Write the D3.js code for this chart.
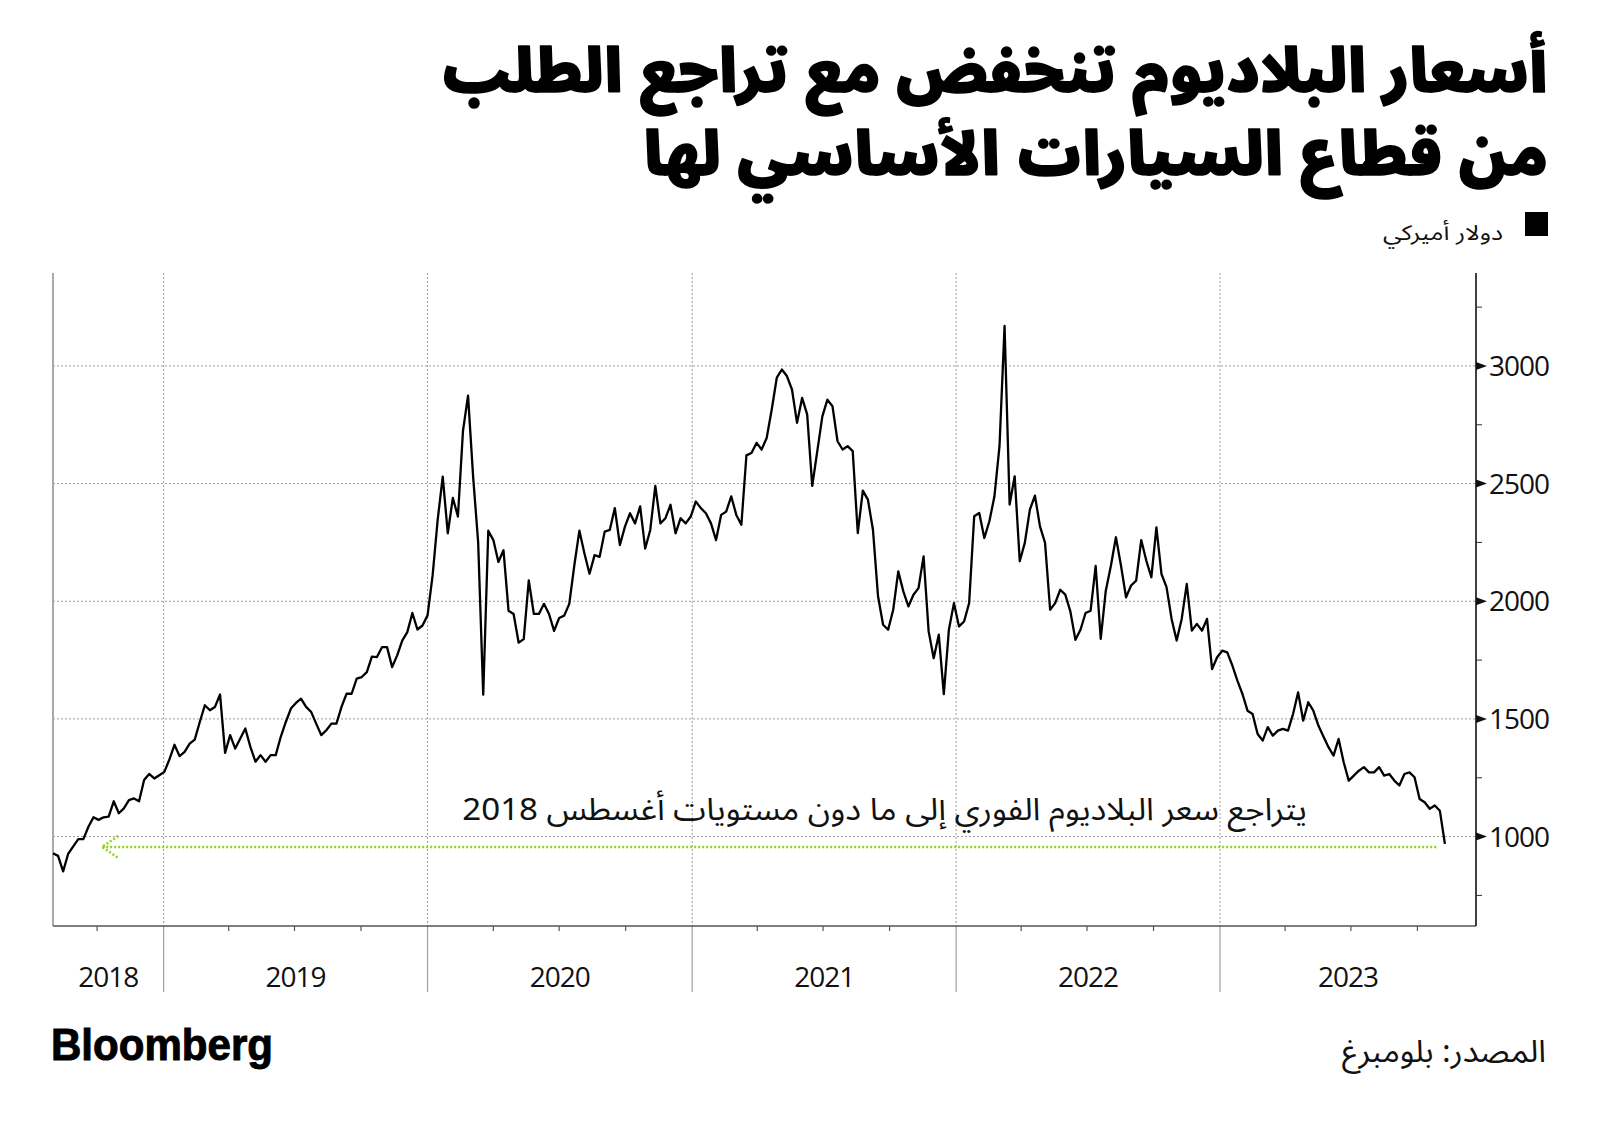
<!DOCTYPE html>
<html><head><meta charset="utf-8">
<script src="https://cdn.jsdelivr.net/npm/d3@7"></script>
<style>
html,body{margin:0;padding:0;background:#fff;}
svg{display:block;}
</style></head><body>
<svg id="chart" width="1600" height="1125"></svg>
<script>
// ---- DATA ----
const startDate = "2018-08-01";   // first weekly observation
const stepDays = 7;               // weekly observations
const prices = [
929,918,852,927,958,989,989,1042,1082,1071,1082,1085,1150,1099,1120,1155,1162,1150,1240,1266,
1247,1261,1275,1328,1390,1342,1360,1395,1412,1487,1558,1537,1551,1604,1356,1431,1374,1417,1459,1381,
1318,1346,1318,1346,1346,1424,1487,1544,1568,1586,1551,1530,1480,1431,1452,1480,1480,1551,1607,1607,
1671,1678,1699,1765,1763,1805,1805,1720,1770,1833,1869,1950,1880,1897,1940,2110,2346,2530,2289,2439,
2360,2724,2874,2531,2250,1603,2300,2260,2167,2217,1960,1946,1824,1839,2089,1946,1946,1989,1946,1874,
1929,1939,1989,2153,2300,2203,2117,2196,2189,2296,2303,2396,2239,2317,2374,2331,2403,2224,2303,2490,
2331,2353,2410,2289,2353,2331,2360,2424,2396,2374,2331,2260,2367,2381,2446,2367,2325,2620,2630,2673,
2645,2694,2815,2950,2985,2957,2900,2758,2864,2794,2490,2638,2786,2857,2829,2680,2645,2659,2638,2290,
2470,2432,2304,2021,1900,1879,1964,2127,2042,1978,2028,2056,2191,1872,1758,1858,1605,1879,1992,1893,
1914,1992,2361,2375,2269,2340,2446,2659,3170,2411,2531,2170,2248,2389,2449,2318,2248,1964,1992,2049,
2028,1957,1836,1879,1950,1960,2150,1840,2045,2150,2272,2152,2017,2067,2088,2260,2173,2102,2314,2116,
2060,1925,1833,1925,2074,1875,1904,1875,1925,1712,1762,1790,1783,1727,1663,1606,1535,1521,1436,1408,
1465,1429,1450,1458,1450,1521,1613,1493,1571,1535,1472,1425,1380,1344,1415,1316,1238,1259,1280,1295,
1273,1273,1295,1259,1266,1238,1217,1266,1273,1252,1160,1146,1118,1132,1110,969
];
const xDomain = ["2018-08-01", "2023-12-21"];
const yDomain = [620, 3395];
const yTicksMajor = [1000, 1500, 2000, 2500, 3000];
const yTicksMinor = [750, 1250, 1750, 2250, 2750, 3250];
const yearLabels = ["2018", "2019", "2020", "2021", "2022", "2023"];
const arrowLevel = 956;
const arrowDates = ["2018-10-08", "2023-10-29"];

const titleLines = ["أسعار البلاديوم تنخفض مع تراجع الطلب", "من قطاع السيارات الأساسي لها"];
const legendLabel = "دولار أميركي";
const annotationText = "يتراجع سعر البلاديوم الفوري إلى ما دون مستويات أغسطس 2018";
const sourceText = "المصدر: بلومبرغ";
const logoText = "Bloomberg";

// ---- LAYOUT ----
const plot = {left: 53, right: 1476, top: 273, bottom: 926};
const parse = d3.utcParse("%Y-%m-%d");
const start = parse(startDate);
const series = prices.map((v, i) => ({date: d3.utcDay.offset(start, i * stepDays), value: v}));

const x = d3.scaleUtc().domain(xDomain.map(parse)).range([plot.left, plot.right]);
const y = d3.scaleLinear().domain(yDomain).range([plot.bottom, plot.top]);

const svg = d3.select("#chart");
const arabicFont = "'Noto Sans Arabic','Noto Kufi Arabic','DejaVu Sans',sans-serif";
const latinFont = "'Open Sans','Noto Sans',sans-serif";

function fitX(sel, L, R) {
  const b = sel.node().getBBox();
  const s = (R - L) / b.width;
  sel.attr("transform", `translate(${L - b.x * s},0) scale(${s},1)`);
}

// horizontal gridlines
svg.append("g").selectAll("line").data(yTicksMajor).join("line")
  .attr("x1", plot.left).attr("x2", plot.right)
  .attr("y1", d => y(d)).attr("y2", d => y(d))
  .attr("stroke", "#9a9a9a").attr("stroke-width", 1).attr("stroke-dasharray", "2,2");

// year boundaries
const yearStarts = d3.utcYear.range(x.domain()[0], x.domain()[1]).filter(d => d > x.domain()[0]);
const yg = svg.append("g");
yg.selectAll("line.dot").data(yearStarts).join("line").attr("class", "dot")
  .attr("x1", d => x(d)).attr("x2", d => x(d))
  .attr("y1", plot.top).attr("y2", plot.bottom)
  .attr("stroke", "#9a9a9a").attr("stroke-width", 1).attr("stroke-dasharray", "2,2");
yg.selectAll("line.solid").data(yearStarts).join("line").attr("class", "solid")
  .attr("x1", d => x(d)).attr("x2", d => x(d))
  .attr("y1", plot.bottom).attr("y2", 992)
  .attr("stroke", "#a0a0a0").attr("stroke-width", 1.2);

// left axis line
svg.append("line").attr("x1", plot.left).attr("x2", plot.left)
  .attr("y1", plot.top).attr("y2", plot.bottom).attr("stroke", "#aaa").attr("stroke-width", 2);

// bottom axis with quarter ticks
const quarters = d3.utcMonth.every(3).range(x.domain()[0], x.domain()[1]).filter(d => d.getUTCMonth() !== 0);
svg.append("line").attr("x1", plot.left).attr("x2", plot.right)
  .attr("y1", plot.bottom).attr("y2", plot.bottom).attr("stroke", "#555").attr("stroke-width", 1.5);
svg.append("g").selectAll("line").data(quarters).join("line")
  .attr("x1", d => x(d)).attr("x2", d => x(d))
  .attr("y1", plot.bottom).attr("y2", plot.bottom + 5)
  .attr("stroke", "#555").attr("stroke-width", 1.2);

// year labels centred in visible year span
const yb = [x.domain()[0], ...yearStarts, x.domain()[1]];
svg.append("g").selectAll("text").data(yearLabels).join("text")
  .attr("x", (d, i) => (x(yb[i]) + x(yb[i + 1])) / 2)
  .attr("y", 987)
  .attr("text-anchor", "middle")
  .attr("font-family", latinFont).attr("font-size", 28).attr("letter-spacing", "-1px")
  .attr("fill", "#111").text(d => d);

// right axis
svg.append("line").attr("x1", plot.right).attr("x2", plot.right)
  .attr("y1", plot.top).attr("y2", plot.bottom).attr("stroke", "#111").attr("stroke-width", 1.6);
svg.append("g").selectAll("line").data(yTicksMinor).join("line")
  .attr("x1", plot.right).attr("x2", plot.right + 6)
  .attr("y1", d => y(d)).attr("y2", d => y(d)).attr("stroke", "#333").attr("stroke-width", 1);
svg.append("g").selectAll("path").data(yTicksMajor).join("path")
  .attr("d", d => `M${plot.right},${y(d) - 4}L${plot.right + 11},${y(d)}L${plot.right},${y(d) + 4}Z`)
  .attr("fill", "#111");
svg.append("g").selectAll("text").data(yTicksMajor).join("text")
  .attr("x", plot.right + 13).attr("y", d => y(d)).attr("dy", "0.36em")
  .attr("font-family", latinFont).attr("font-size", 28).attr("letter-spacing", "-1px")
  .attr("fill", "#111").text(d => d);

// price line
svg.append("path").datum(series)
  .attr("d", d3.line().x(d => x(d.date)).y(d => y(d.value)))
  .attr("fill", "none").attr("stroke", "#000").attr("stroke-width", 2.3)
  .attr("stroke-linejoin", "round");

// green arrow
const ax0 = x(parse(arrowDates[0])), ax1 = x(parse(arrowDates[1])), ay = y(arrowLevel);
const green = "#94d31b";
const ag = svg.append("g").attr("stroke", green).attr("stroke-width", 2.6).attr("stroke-dasharray", "2,2").attr("fill", "none");
ag.append("line").attr("x1", ax0).attr("x2", ax1).attr("y1", ay).attr("y2", ay);
ag.append("path").attr("d", `M${ax0 + 16},${ay - 11}L${ax0},${ay}L${ax0 + 16},${ay + 11}`);

// annotation
const ann = svg.append("text").attr("x", 0).attr("y", 820)
  .attr("direction", "rtl").attr("text-anchor", "start")
  .attr("font-family", arabicFont).attr("font-size", 31).attr("fill", "#111").text(annotationText);
fitX(ann, 462, 1307);

// title
titleLines.forEach((t, i) => {
  const tt = svg.append("text").attr("x", 0).attr("y", [92, 175][i])
    .attr("direction", "rtl").attr("text-anchor", "start")
    .attr("font-family", arabicFont).attr("font-weight", 900).attr("font-size", 60)
    .attr("fill", "#000").attr("stroke", "#000").attr("stroke-width", 1.6)
    .attr("stroke-linejoin", "round").text(t);
  fitX(tt, [441, 643][i], 1548);
});

// legend
svg.append("rect").attr("x", 1525).attr("y", 212).attr("width", 23).attr("height", 24).attr("fill", "#000");
const lg = svg.append("text").attr("x", 0).attr("y", 240)
  .attr("direction", "rtl").attr("text-anchor", "start")
  .attr("font-family", arabicFont).attr("font-size", 21).attr("fill", "#111").text(legendLabel);
fitX(lg, 1383, 1503);

// source
const src = svg.append("text").attr("x", 0).attr("y", 1062)
  .attr("direction", "rtl").attr("text-anchor", "start")
  .attr("font-family", arabicFont).attr("font-size", 31).attr("fill", "#111").text(sourceText);
fitX(src, 1342, 1546);

// logo
const logo = svg.append("text").attr("x", 0).attr("y", 1060)
  .attr("font-family", "'Liberation Sans',Arial,sans-serif").attr("font-weight", 700)
  .attr("font-size", 45).attr("fill", "#000").attr("stroke", "#000").attr("stroke-width", 1)
  .text(logoText);
fitX(logo, 51, 273);
</script>
</body></html>
